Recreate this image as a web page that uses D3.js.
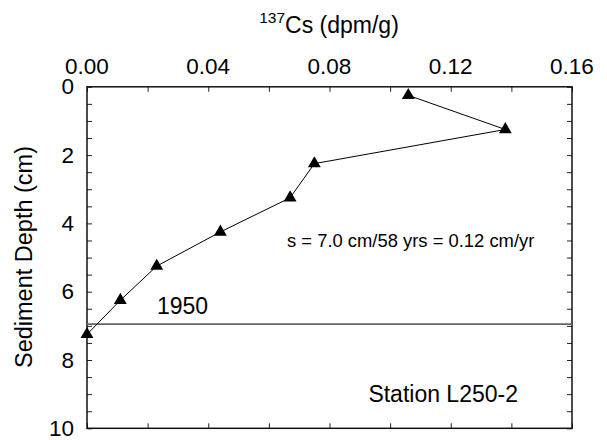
<!DOCTYPE html>
<html>
<head>
<meta charset="utf-8">
<script src="https://cdn.jsdelivr.net/npm/d3@7"></script>
<style>
    body { margin: 0; background: #fff; }
    text { font-family: "Liberation Sans", Arial, sans-serif; }
</style>
</head>
<body>
<script>
    // data
    let depth = [0.25, 1.25, 2.25, 3.25, 4.25, 5.25, 6.25, 7.25];
    let cs137 = [0.106, 0.138, 0.075, 0.067, 0.044, 0.023, 0.011, 0.0];
    let xTicks = [0.00, 0.04, 0.08, 0.12, 0.16];
    let yTicks = [0, 2, 4, 6, 8, 10];
    let horizonDepth = 6.95;
    let horizonLabel = "1950";
    let rateNote = "s = 7.0 cm/58 yrs = 0.12 cm/yr";
    let stationLabel = "Station L250-2";

    let w = 607;
    let h = 440;

    let dataset = depth.map(function(d, i) {
        return { depth: d, cs: cs137[i] };
    });

    let xScale = d3.scaleLinear()
        .domain([0, 0.16])
        .range([87, 572]);

    let yScale = d3.scaleLinear()
        .domain([0, 10])
        .range([86.8, 428.3]);

    let svg = d3.select("body")
        .append("svg")
        .attr("width", w)
        .attr("height", h);

    let minorX = d3.range(0, 0.1601, 0.02);
    let minorY = d3.range(0, 10.01, 0.5);

    // top axis, ticks pointing in
    svg.append("g")
        .attr("transform", "translate(0," + yScale(0) + ")")
        .call(d3.axisBottom(xScale).tickValues(minorX).tickSize(5).tickFormat(""))
        .call(function(g) { g.select(".domain").remove(); });

    svg.append("g")
        .selectAll("text")
        .data(xTicks)
        .enter()
        .append("text")
        .attr("x", function(d) { return xScale(d); })
        .attr("y", 74)
        .attr("text-anchor", "middle")
        .attr("font-size", "22.5px")
        .text(d3.format(".2f"));

    // bottom ticks
    svg.append("g")
        .attr("transform", "translate(0," + yScale(10) + ")")
        .call(d3.axisTop(xScale).tickValues(minorX).tickSize(5).tickFormat(""))
        .call(function(g) { g.select(".domain").remove(); });

    // left axis
    svg.append("g")
        .attr("transform", "translate(" + xScale(0) + ",0)")
        .call(d3.axisRight(yScale).tickValues(minorY).tickSize(5).tickFormat(""))
        .call(function(g) { g.select(".domain").remove(); });

    svg.append("g")
        .selectAll("text")
        .data(yTicks)
        .enter()
        .append("text")
        .attr("x", 74)
        .attr("y", function(d) { return yScale(d); })
        .attr("dy", "0.34em")
        .attr("text-anchor", "end")
        .attr("font-size", "22.5px")
        .text(function(d) { return d; });

    // right ticks
    svg.append("g")
        .attr("transform", "translate(" + xScale(0.16) + ",0)")
        .call(d3.axisLeft(yScale).tickValues(minorY).tickSize(5).tickFormat(""))
        .call(function(g) { g.select(".domain").remove(); });

    svg.selectAll(".tick line").attr("stroke", "#222");

    // frame
    svg.append("rect")
        .attr("x", xScale(0))
        .attr("y", yScale(0))
        .attr("width", xScale(0.16) - xScale(0))
        .attr("height", yScale(10) - yScale(0))
        .attr("fill", "none")
        .attr("stroke", "#111")
        .attr("stroke-width", 1.5);

    // 1950 horizon
    svg.append("line")
        .attr("x1", xScale(0))
        .attr("x2", xScale(0.16))
        .attr("y1", yScale(horizonDepth))
        .attr("y2", yScale(horizonDepth))
        .attr("stroke", "#666")
        .attr("stroke-width", 1.6);

    svg.append("text")
        .attr("x", 157)
        .attr("y", 314)
        .attr("font-size", "23px")
        .text(horizonLabel);

    // profile
    let line = d3.line()
        .x(function(d) { return xScale(d.cs); })
        .y(function(d) { return yScale(d.depth); });

    svg.append("path")
        .datum(dataset)
        .attr("d", line)
        .attr("fill", "none")
        .attr("stroke", "#000")
        .attr("stroke-width", 1);

    svg.selectAll(".pt")
        .data(dataset)
        .enter()
        .append("path")
        .attr("class", "pt")
        .attr("d", d3.symbol().type(d3.symbolTriangle).size(72))
        .attr("transform", function(d) {
            return "translate(" + xScale(d.cs) + "," + yScale(d.depth) + ")";
        })
        .attr("fill", "#000");

    // annotations
    svg.append("text")
        .attr("x", 287)
        .attr("y", 246.5)
        .attr("font-size", "18.4px")
        .text(rateNote);

    svg.append("text")
        .attr("x", 518)
        .attr("y", 401.5)
        .attr("text-anchor", "end")
        .attr("font-size", "23px")
        .text(stationLabel);

    // axis titles
    let title = svg.append("text")
        .attr("x", 329)
        .attr("y", 33)
        .attr("text-anchor", "middle")
        .attr("font-size", "23px");
    title.append("tspan")
        .attr("font-size", "15.5px")
        .attr("dy", "-10")
        .text("137");
    title.append("tspan")
        .attr("dy", "10")
        .text("Cs (dpm/g)");

    svg.append("text")
        .attr("transform", "translate(32,257) rotate(-90)")
        .attr("text-anchor", "middle")
        .attr("font-size", "23.5px")
        .text("Sediment Depth (cm)");
</script>
</body>
</html>
